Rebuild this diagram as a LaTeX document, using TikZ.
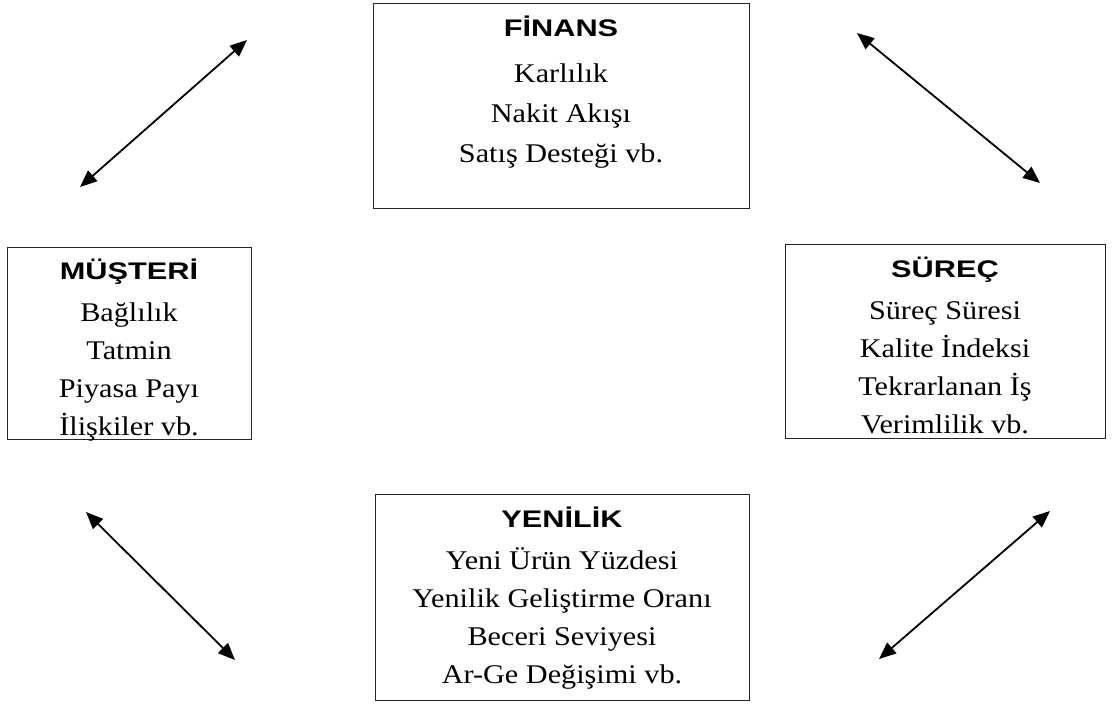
\documentclass[tikz,border=0pt]{standalone}
\usepackage{fontspec}
\setmainfont{Liberation Serif}[FakeStretch=1.12]
\newfontfamily\headfont{Liberation Sans}[FakeStretch=1.28]
\usetikzlibrary{arrows.meta}
\newcommand{\hd}[1]{{\headfont\bfseries\fontsize{24}{38}\selectfont #1}}

\begin{document}
\begin{tikzpicture}[x=1pt, y=-1pt, every node/.style={font=\fontsize{27}{38}\selectfont}, >={Triangle[length=17pt, width=14pt]}, box/.style={draw=black!85, line width=0.9pt, align=center, anchor=north, inner sep=0pt}, dbl/.style={<->, line width=1.8pt}]
	\useasboundingbox (0,0) rectangle (1113,704);
	\node[box, minimum width=376pt, text height=159pt, text depth=46pt, font=\fontsize{27}{40}\selectfont] (fin) at (561,3) {\hd{FİNANS}\\[6pt] Karlılık\\ Nakit Akışı\\ Satış Desteği vb.};
	\node[box, minimum width=244pt, text height=188pt, text depth=4pt] (mus) at (129,247) {\hd{MÜŞTERİ}\\[4pt] Bağlılık\\ Tatmin\\ Piyasa Payı\\ İlişkiler vb.};
	\node[box, minimum width=320pt, text height=189pt, text depth=5pt] (sur) at (945,244) {\hd{SÜREÇ}\\[4pt] Süreç Süresi\\ Kalite İndeksi\\ Tekrarlanan İş\\ Verimlilik vb.};
	\node[box, minimum width=374pt, text height=189pt, text depth=17pt] (yen) at (562,494) {\hd{YENİLİK}\\[4pt] Yeni Ürün Yüzdesi\\ Yenilik Geliştirme Oranı\\ Beceri Seviyesi\\ Ar-Ge Değişimi vb.};
	\coordinate (tl1) at (80,187);
	\coordinate (tl2) at (247,40);
	\coordinate (tr1) at (857,33);
	\coordinate (tr2) at (1040,183);
	\coordinate (bl1) at (86,512);
	\coordinate (bl2) at (235,660);
	\coordinate (br1) at (879,659);
	\coordinate (br2) at (1050,511);
	\draw[dbl] (tl1) -- (tl2);
	\draw[dbl] (tr1) -- (tr2);
	\draw[dbl] (bl1) -- (bl2);
	\draw[dbl] (br1) -- (br2);
\end{tikzpicture}
\end{document}
